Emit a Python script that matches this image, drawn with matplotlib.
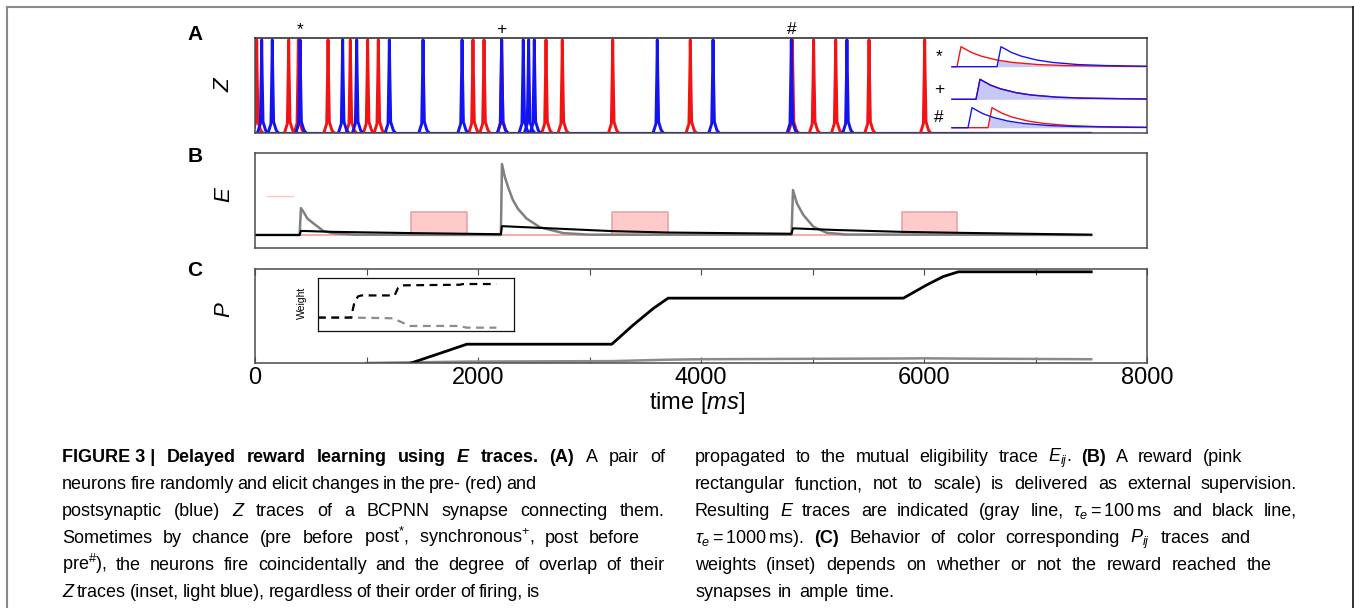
import numpy as np
import matplotlib
matplotlib.use("Agg")
import matplotlib.pyplot as plt
from matplotlib import font_manager
from matplotlib.lines import Line2D
from matplotlib.transforms import IdentityTransform

# ---------------- data ----------------
t_end = 7500
# panel A: spike times (ms) of pre (red) and post (blue) neuron
pre_spikes = [15, 302, 389, 655, 855, 1010, 1106, 1955, 2054, 2212, 2610, 2756,
              3208, 3904, 4820, 5010, 5208, 5507, 6006]
post_spikes = [60, 155, 404, 786, 912, 1205, 1507, 1857, 2212, 2406, 2454, 2505,
               3608, 4108, 4810, 5309]
spike_dt = [-38, -12, -4, 0, 4, 12, 35, 55]      # spike shape (ms offsets)
spike_z = [0, 0.1, 0.65, 1.0, 0.65, 0.12, 0.03, 0]
pair_marks = ["*", "+", "#"]
pair_times = [400, 2212, 4810]

# panel A inset: onsets of the Z traces per row and their decay profile
inset_pre_on = [7, 26, 38]
inset_post_on = [47, 26, 18]
z_dx = [0, 4, 14, 24, 39, 54, 79, 104, 154, 204]
z_decay = [0, 1, 0.72, 0.53, 0.34, 0.22, 0.11, 0.06, 0.02, 0.005]

# panel B: E traces and reward
e_gray_t = [0, 400, 412, 440, 470, 523, 612, 700, 900, 2205, 2215, 2240, 2270, 2313,
            2360, 2436, 2556, 2765, 3000, 4812, 4825, 4860, 4918, 5008, 5127, 5300, 7500]
e_gray = [0.137, 0.137, 0.42, 0.37, 0.31, 0.26, 0.18, 0.155, 0.14, 0.137, 0.884, 0.75,
          0.64, 0.505, 0.41, 0.31, 0.218, 0.157, 0.14, 0.14, 0.61, 0.47, 0.347, 0.224,
          0.16, 0.142, 0.137]
e_black_t = [0, 400, 412, 700, 1400, 2205, 2215, 2400, 3200, 3700, 4812, 4825, 5200,
             5800, 6300, 7500]
e_black = [0.137, 0.137, 0.18, 0.17, 0.157, 0.145, 0.23, 0.22, 0.178, 0.163, 0.15,
           0.207, 0.19, 0.17, 0.16, 0.14]
reward_on = [1400, 3200, 5800]
reward_off = [1900, 3700, 6300]
reward_base = 0.137
reward_top = 0.379
stub_t = [110, 340]
stub_e = [0.547, 0.547]

# panel C: P traces
p_black_t = [1400, 1659, 1900, 3200, 3392, 3572, 3705, 5815, 6024, 6173, 6308, 7500]
p_black = [0, 0.103, 0.2, 0.2, 0.404, 0.58, 0.69, 0.69, 0.83, 0.92, 0.97, 0.97]
p_gray_t = [1000, 1400, 1900, 3200, 3700, 4000, 5800, 6000, 6300, 7500]
p_gray = [0.0, 0.007, 0.015, 0.02, 0.035, 0.04, 0.048, 0.05, 0.047, 0.04]
tick_vals = [0, 1000, 2000, 3000, 4000, 5000, 6000, 7000, 8000]
tick_labels = ["0", "", "2000", "", "4000", "", "6000", "", "8000"]

# panel C inset: weights
w_black_x = [0, 0.17, 0.179, 0.187, 0.204, 0.221, 0.391, 0.408, 0.425, 0.723, 0.74, 0.91]
w_black = [0.253, 0.253, 0.43, 0.557, 0.652, 0.671, 0.671, 0.81, 0.861, 0.873, 0.886, 0.886]
w_gray_x = [0, 0.17, 0.383, 0.468, 0.723, 0.757, 0.91]
w_gray = [0.253, 0.253, 0.24, 0.095, 0.095, 0.063, 0.063]

# caption: (segments, right end in px); style n / b / i / bi, "~" = fixed space
cap_left = [
    ([("b", "FIGURE~3~| Delayed reward learning using"), ("bi", "E"), ("b", "traces. (A)"),
      ("n", "A pair of")], 665),
    ([("n", "neurons fire randomly and elicit changes in the pre- (red) and")], 497),
    ([("n", "postsynaptic (blue)"), ("i", "Z"), ("n", "traces of a BCPNN synapse connecting them.")], 665),
    ([("n", "Sometimes by chance (pre before post$^{*}$, synchronous$^{+}$, post before")], 640),
    ([("n", r"pre$^{\#}$), the neurons fire coincidentally and the degree of overlap of their")], 665),
    ([("i", "Z"), ("n", "traces (inset, light blue), regardless of their order of firing, is")], 540),
]
cap_right = [
    ([("n", "propagated to the mutual eligibility trace $E_{ij}$."), ("b", "(B)"),
      ("n", "A reward (pink")], 1242),
    ([("n", "rectangular function, not to scale) is delivered as external supervision.")], 1297),
    ([("n", "Resulting"), ("i", "E"), ("n", r"traces are indicated (gray line, $\tau_e=100\,$ms and black line,")], 1297),
    ([("n", r"$\tau_e=1000\,$ms)."), ("b", "(C)"), ("n", "Behavior of color corresponding $P_{ij}$ traces and")], 1250),
    ([("n", "weights (inset) depends on whether or not the reward reached the")], 1272),
    ([("n", "synapses in ample time.")], None),
]
full_width = {665, 1297}

# ---------------- style ----------------
plt.rcParams['font.family'] = ['Liberation Sans', 'DejaVu Sans']
plt.rcParams['mathtext.fontset'] = 'custom'
plt.rcParams['mathtext.rm'] = 'Liberation Sans'
plt.rcParams['mathtext.it'] = 'Liberation Sans:italic'
plt.rcParams['mathtext.bf'] = 'Liberation Sans:bold'

try:
    font_manager.findfont(font_manager.FontProperties(family='Liberation Sans Narrow'),
                          fallback_to_default=False)
    cap_family = ['Liberation Sans Narrow', 'DejaVu Sans']
except ValueError:
    cap_family = ['Liberation Sans', 'DejaVu Sans']

W, H = 1354, 608
fig = plt.figure(figsize=(W / 100, H / 100), dpi=100)
red, blue = '#f21414', '#1414f0'
spine_c = '#4a4a4a'


def px_axes(x0, y0, x1, y1):
    return fig.add_axes([x0 / W, 1 - y1 / H, (x1 - x0) / W, (y1 - y0) / H])


def frame(ax, c=spine_c, lw=1.1):
    for s in ax.spines.values():
        s.set_color(c)
        s.set_linewidth(lw)


# ---------------- panel A ----------------
axA = px_axes(255, 38, 1147, 133)
axA.plot([0, t_end], [0, 0], color=blue, lw=1.6)
for s in pre_spikes:
    axA.plot(s + np.array(spike_dt), spike_z, color=red, lw=2.1)
for s in post_spikes:
    axA.plot(s + np.array(spike_dt), spike_z, color=blue, lw=2.1)
axA.set_xlim(0, 8000)
axA.set_ylim(0, 1.02)
axA.set_xticks([])
axA.set_yticks([])
frame(axA)
axA.spines['top'].set_color('#222222')
for m, t in zip(pair_marks, pair_times):
    axA.text(t, 1.09, m, transform=axA.get_xaxis_transform(), ha='center', va='center',
             fontsize=12.5)

axI = px_axes(950, 40, 1147, 133)
axI.set_xlim(0, 197)
axI.set_ylim(0, 93)
axI.axis('off')
xg = np.arange(2, 197.5, 0.5)
row_base = [66.3, 33.7, 5.3]
for k, m in enumerate(pair_marks):
    pre = np.interp(xg - inset_pre_on[k], z_dx, z_decay, left=0, right=0)
    post = np.interp(xg - inset_post_on[k], z_dx, z_decay, left=0, right=0)
    b = row_base[k]
    axI.fill_between(xg, b, b + 20 * np.minimum(pre, post), color='#c8c8f4', lw=0)
    axI.plot(xg, b + 20 * pre, color=red, lw=1.0)
    axI.plot(xg, b + 20 * post, color=blue, lw=1.0)
    axI.text(-11, b + 10, m, ha='center', va='center', fontsize=12.5, clip_on=False)

# ---------------- panel B ----------------
axB = px_axes(255, 153, 1147, 248)
for a, b in zip(reward_on, reward_off):
    axB.fill_between([a, b], reward_base, reward_top, color='#ffcaca', lw=0)
    axB.plot([a, a, b, b], [reward_base, reward_top, reward_top, reward_base],
             color='#e8a4a4', lw=1.2)
axB.plot([0, t_end], [reward_base, reward_base], color='#f0a0a0', lw=1.2)
axB.plot(stub_t, stub_e, color='#ffc4c4', lw=1)
axB.plot(e_gray_t, e_gray, color='#808080', lw=1.8)
axB.plot(e_black_t, e_black, color='k', lw=1.5)
axB.set_xlim(0, 8000)
axB.set_ylim(0, 1)
axB.set_xticks([])
axB.set_yticks([])
frame(axB)

# ---------------- panel C ----------------
axC = px_axes(255, 269, 1147, 363)
axC.plot(p_gray_t, p_gray, color='#8a8a8a', lw=1.8)
axC.plot(p_black_t, p_black, color='k', lw=2.0)
axC.set_xlim(0, 8000)
axC.set_ylim(0, 1)
axC.set_xticks(tick_vals)
axC.set_xticklabels(tick_labels)
axC.set_yticks([])
axC.tick_params(axis='x', direction='in', top=True, length=4, width=0.8, color=spine_c,
                labelsize=17, pad=3)
frame(axC)

axW = px_axes(318, 278, 514, 331)
axW.plot(w_gray_x, w_gray, color='#8c8c8c', lw=1.6, dashes=(3.5, 2.5))
axW.plot(w_black_x, w_black, color='k', lw=1.6, dashes=(3.5, 2.5))
axW.set_xlim(0, 1)
axW.set_ylim(0, 1)
axW.set_xticks([])
axW.set_yticks([])
frame(axW, c='#111111', lw=0.9)
fig.text(302 / W, 1 - 303 / H, "Weight", rotation=90, fontsize=7.5, ha='center', va='center')

# ---------------- labels ----------------
for lab, y in zip(["A", "B", "C"], [35, 157, 270]):
    fig.text(195 / W, 1 - y / H, lab, fontsize=15, fontweight='bold', ha='center', va='center')
for lab, y in zip(["Z", "E", "P"], [85, 195, 310]):
    fig.text(224 / W, 1 - y / H, lab, fontsize=16, fontstyle='italic', rotation=90,
             ha='center', va='center')
fig.text(697 / W, 1 - 403 / H, "time [$ms$]", fontsize=17, ha='center', va='center')

# outer frame
fig.add_artist(Line2D([7, 1353], [H - 7, H - 7], transform=IdentityTransform(),
                      color='#8a8a8a', lw=1.5))
fig.add_artist(Line2D([7, 7], [0, H - 7], transform=IdentityTransform(),
                      color='#8a8a8a', lw=1.5))
fig.add_artist(Line2D([1352.5, 1352.5], [0, H - 7], transform=IdentityTransform(),
                      color='#111111', lw=1.2))

# ---------------- caption ----------------
renderer = fig.canvas.get_renderer()


def words_of(segs):
    out = []
    for sty, txt in segs:
        for w in txt.split(" "):
            out.append((sty, w.replace("~", " ")))
    return out


def word_kw(sty, fs):
    return dict(fontsize=fs, family=cap_family,
                fontweight='bold' if 'b' in sty else 'normal',
                fontstyle='italic' if 'i' in sty else 'normal')


def widths_of(words, fs):
    ws = []
    for sty, w in words:
        t = fig.text(0, 0, w, transform=IdentityTransform(), **word_kw(sty, fs))
        ws.append(t.get_window_extent(renderer).width)
        t.remove()
    return ws


cap_fs = 13.0
min_gap = 0.2
columns = [(62, cap_left), (695, cap_right)]
ratio = 1.0
for x0, lines in columns:
    for segs, x1 in lines:
        if x1 not in full_width:
            continue
        ws = widths_of(words_of(segs), cap_fs)
        need = sum(ws) + min_gap * cap_fs * 1.389 * (len(ws) - 1)
        ratio = max(ratio, need / (x1 - x0))
cap_fs /= ratio

for x0, lines in columns:
    for k, (segs, x1) in enumerate(lines):
        words = words_of(segs)
        ws = widths_of(words, cap_fs)
        gmin = min_gap * cap_fs * 1.389
        if x1 is None:
            gap = 0.4 * cap_fs * 1.389
        else:
            gap = max(gmin, (x1 - x0 - sum(ws)) / (len(ws) - 1))
        yb = H - (462 + 27 * k)
        x = x0
        for (sty, w), wd in zip(words, ws):
            fig.text(x, yb, w, transform=IdentityTransform(), va='baseline', ha='left',
                     **word_kw(sty, cap_fs))
            x += wd + gap

fig.savefig("out.png", dpi=100)
